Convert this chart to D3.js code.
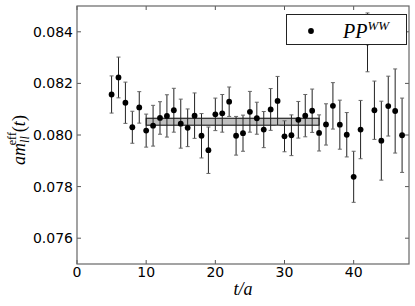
<!DOCTYPE html>
<html><head><meta charset="utf-8">
<script src="https://cdn.jsdelivr.net/npm/d3@7"></script>
<style>body{margin:0;background:#fff}svg{display:block}</style>
</head><body>
<svg id="c" width="415" height="306"></svg>
<script>
const tVals = [5,6,7,8,9,10,11,12,13,14,15,16,17,18,19,20,21,22,23,24,25,26,27,28,29,30,31,32,33,34,35,36,37,38,39,40,41,42,43,44,45,46,47];
const mVals = [0.08157,0.08223,0.08125,0.08030,0.08107,0.08017,0.08036,0.08066,0.08074,0.08096,0.08044,0.08028,0.08075,0.07997,0.07941,0.08080,0.08084,0.08129,0.07997,0.08007,0.08090,0.08065,0.08021,0.08099,0.08132,0.07995,0.07999,0.08059,0.08075,0.08094,0.08008,0.08041,0.08113,0.08040,0.08001,0.07838,0.08021,0.08359,0.08096,0.07978,0.08112,0.08093,0.07999];
const mErr = [0.00072,0.00079,0.00080,0.00062,0.00061,0.00064,0.00079,0.00063,0.00082,0.00085,0.00095,0.00073,0.00088,0.00086,0.00090,0.00063,0.00073,0.00057,0.00075,0.00070,0.00079,0.00062,0.00070,0.00081,0.00095,0.00060,0.00079,0.00071,0.00082,0.00084,0.00070,0.00080,0.00090,0.00095,0.00086,0.00099,0.00113,0.00114,0.00113,0.00153,0.00116,0.00163,0.00144];
const fitRange = [10, 35];
const fitBand = [0.08038, 0.08065];
const xTicks = [0,10,20,30,40];
const yTicks = [0.076,0.078,0.080,0.082,0.084];

const L=77, R=409, T=6, B=264;
const svg = d3.select("#c");
const x = d3.scaleLinear().domain([0,48]).range([L,R]);
const y = d3.scaleLinear().domain([0.075,0.085]).range([B,T]);

// fit band
svg.append("rect")
  .attr("x", x(fitRange[0])).attr("y", y(fitBand[1]))
  .attr("width", x(fitRange[1])-x(fitRange[0]))
  .attr("height", y(fitBand[0])-y(fitBand[1]))
  .attr("fill","#bfbfbf").attr("stroke","#000").attr("stroke-width",1);

const data = tVals.map((t,i)=>({t, m:mVals[i], e:mErr[i]}));
const g = svg.append("g");
data.forEach(d=>{
  const cx = x(d.t), y1 = y(d.m+d.e), y2 = y(d.m-d.e);
  g.append("line").attr("x1",cx).attr("x2",cx).attr("y1",y1).attr("y2",y2).attr("stroke","#222").attr("stroke-width",1);
  [y1,y2].forEach(yy=>g.append("line").attr("x1",cx-2).attr("x2",cx+2).attr("y1",yy).attr("y2",yy).attr("stroke","#666").attr("stroke-width",1));
});
g.selectAll("circle").data(data).enter().append("circle")
  .attr("cx",d=>x(d.t)).attr("cy",d=>y(d.m)).attr("r",2.9).attr("fill","#000");

// axes with inward ticks on all sides
const tickLen = 4;
const ax = svg.append("g").attr("font-family","DejaVu Sans").attr("font-size",14).attr("fill","#000");
xTicks.forEach(v=>{
  const px = x(v);
  ax.append("line").attr("x1",px).attr("x2",px).attr("y1",B).attr("y2",B-tickLen).attr("stroke","#555");
  ax.append("line").attr("x1",px).attr("x2",px).attr("y1",T).attr("y2",T+tickLen).attr("stroke","#555");
  ax.append("text").attr("x",px).attr("y",B+13).attr("text-anchor","middle").text(d3.format("d")(v));
});
yTicks.forEach(v=>{
  const py = y(v);
  ax.append("line").attr("x1",L).attr("x2",L+tickLen).attr("y1",py).attr("y2",py).attr("stroke","#555");
  ax.append("line").attr("x1",R).attr("x2",R-tickLen).attr("y1",py).attr("y2",py).attr("stroke","#555");
  ax.append("text").attr("x",L-4).attr("y",py+5).attr("text-anchor","end").text(d3.format(".3f")(v));
});
svg.append("rect").attr("x",L).attr("y",T).attr("width",R-L).attr("height",B-T)
  .attr("fill","none").attr("stroke","#666").attr("stroke-width",1.2);

// legend
const lg = svg.append("g");
lg.append("rect").attr("x",286.5).attr("y",14.5).attr("width",120).attr("height",30)
  .attr("fill","#fff").attr("stroke","#222").attr("stroke-width",1);
lg.append("circle").attr("cx",311).attr("cy",31).attr("r",2.9).attr("fill","#000");
const lt = lg.append("text").attr("x",343).attr("y",38).attr("font-family","Liberation Serif").attr("font-style","italic").attr("font-size",20);
lt.append("tspan").text("PP");
lt.append("tspan").attr("font-size",13).attr("dy",-8).text("WW");

// x label
svg.append("text").attr("x",243).attr("y",295).attr("text-anchor","middle")
  .attr("font-family","Liberation Serif").attr("font-style","italic").attr("font-size",18).text("t/a");

// y label
const yl = svg.append("text").attr("transform","translate(25,140) rotate(-90)").attr("text-anchor","middle")
  .attr("font-family","Liberation Serif").attr("font-size",18);
yl.append("tspan").attr("font-style","italic").text("am");
yl.append("tspan").attr("font-style","italic").attr("font-size",12).attr("dy",4).text("ll");
yl.append("tspan").attr("font-size",12).attr("dx",-9).attr("dy",-13).text("eff");
yl.append("tspan").attr("dy",9).text("(");
yl.append("tspan").attr("font-style","italic").text("t");
yl.append("tspan").text(")");
</script>
</body></html>
